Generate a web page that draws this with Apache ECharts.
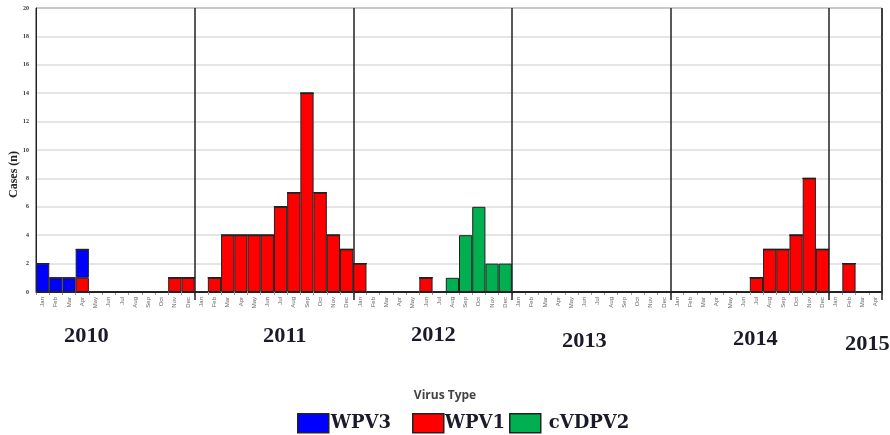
<!DOCTYPE html>
<html>
<head>
<meta charset="utf-8">
<script src="https://cdn.jsdelivr.net/npm/echarts@6/dist/echarts.min.js"></script>
<style>html,body{margin:0;padding:0;background:#fff}#c{width:890px;height:435px}</style>
</head>
<body>
<div id="c"></div>
<script>
var monthNames = ['Jan','Feb','Mar','Apr','May','Jun','Jul','Aug','Sep','Oct','Nov','Dec'];
var years = ['2010','2011','2012','2013','2014','2015'];
var monthsPerYear = [12,12,12,12,12,4];
var categories = [];
years.forEach(function(y, i){ for (var m = 0; m < monthsPerYear[i]; m++) categories.push(monthNames[m] + ' ' + y); });

var wpv3 = [2,1,1,2,0,0,0,0,0,0,0,0,
            0,0,0,0,0,0,0,0,0,0,0,0,
            0,0,0,0,0,0,0,0,0,0,0,0,
            0,0,0,0,0,0,0,0,0,0,0,0,
            0,0,0,0,0,0,0,0,0,0,0,0,
            0,0,0,0];
var wpv1 = [0,0,0,1,0,0,0,0,0,0,1,1,
            0,1,4,4,4,4,6,7,14,7,4,3,
            2,0,0,0,0,1,0,0,0,0,0,0,
            0,0,0,0,0,0,0,0,0,0,0,0,
            0,0,0,0,0,0,1,3,3,4,8,3,
            0,2,0,0];
var cvdpv2 = [0,0,0,0,0,0,0,0,0,0,0,0,
              0,0,0,0,0,0,0,0,0,0,0,0,
              0,0,0,0,0,0,0,1,4,6,2,2,
              0,0,0,0,0,0,0,0,0,0,0,0,
              0,0,0,0,0,0,0,0,0,0,0,0,
              0,0,0,0];
var yearLabels = ['2010','2011','2012','2013','2014','2015'];
var yearLabelPos = [[64,327],[263,327],[411,326],[562,332],[733,330],[845,335]];
var legendNames = ['WPV3','WPV1','cVDPV2'];
var legendLeft = [297, 412, 509];
var legendTextPad = [-3, -4, 3];

function yearStart(idx){ return categories[idx].indexOf('Jan') === 0; }

var chart = echarts.init(document.getElementById('c'));
var serif = '"Liberation Serif","DejaVu Serif",serif';
var graphics = yearLabels.map(function(t, i){
  return {type:'text', x: yearLabelPos[i][0], y: yearLabelPos[i][1], scaleX:1.12,
    style:{text:t, font:'bold 20px ' + serif, fill:'#1a1a2a'}};
});
graphics.push({type:'text', left:'center', top:390, style:{text:'Virus Type', font:'bold 12px "Open Sans",sans-serif', fill:'#444'}});
graphics.push({type:'text', x:8, y:198, rotation:Math.PI/2,
  style:{text:'Cases (n)', font:'bold 12px ' + serif, fill:'#222'}});

function barStyle(c){ return {color:c, borderColor:'#222', borderWidth:1}; }

var legends = legendNames.map(function(n, i){
  return {data:[n], left:legendLeft[i], top:413, padding:0, itemWidth:31, itemHeight:19,
    icon:'rect', itemStyle:{borderColor:'#222', borderWidth:1.5},
    textStyle:{fontFamily:'"DejaVu Serif",serif', fontWeight:'bold', fontSize:18, color:'#1a1a2a', padding:[0,0,0,legendTextPad[i]]}};
});

chart.setOption({
  animation:false,
  grid:{left:36, right:8, top:8, bottom:143, show:true, borderColor:'#222', borderWidth:1, outerBoundsMode:'none'},
  legend: legends,
  graphic: graphics,
  xAxis:[{
    type:'category', data:categories,
    axisLine:{lineStyle:{color:'#222'}},
    axisTick:{show:true, interval:0, length:3, lineStyle:{color:'#999'}},
    axisLabel:{interval:0, rotate:90, fontSize:6, color:'#666', margin:5,
      formatter:function(v){ return v.split(' ')[0]; }},
    splitLine:{show:true, interval:function(i){ return i > 0 && yearStart(i); }, lineStyle:{color:'#222', width:1.5}}
  },{
    type:'category', data:categories, position:'bottom',
    axisLine:{show:false},
    axisTick:{show:true, interval:function(i){ return i > 0 && yearStart(i); }, length:8, lineStyle:{color:'#222', width:1.5}},
    axisLabel:{show:false}, splitLine:{show:false}
  }],
  yAxis:{
    type:'value', min:0, max:20, interval:2,
    axisLine:{show:true, lineStyle:{color:'#222'}},
    axisTick:{show:false},
    axisLabel:{fontFamily:serif, fontWeight:'bold', fontSize:6, color:'#333', margin:7},
    splitLine:{lineStyle:{color:'#ddd', width:1.5}}
  },
  series:[
    {name:'WPV1', type:'bar', stack:'a', data:wpv1, barCategoryGap:'0%', itemStyle:barStyle('#ff0000')},
    {name:'WPV3', type:'bar', stack:'a', data:wpv3, barCategoryGap:'0%', itemStyle:barStyle('#0000ff')},
    {name:'cVDPV2', type:'bar', stack:'a', data:cvdpv2, barCategoryGap:'0%', itemStyle:barStyle('#00b050')}
  ]
});
</script>
</body>
</html>
